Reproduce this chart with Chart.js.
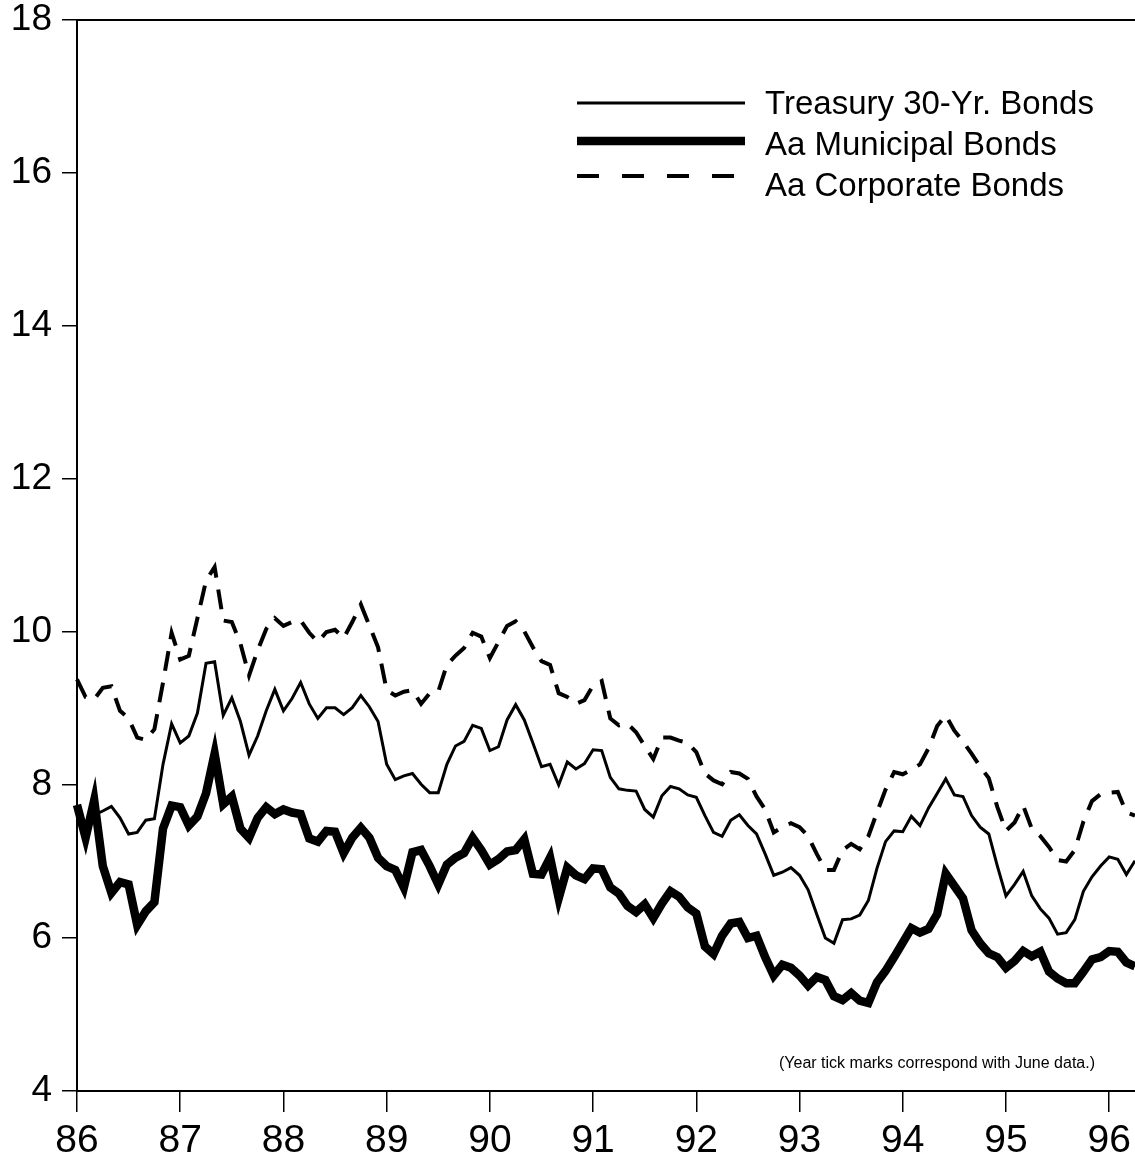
<!DOCTYPE html>
<html>
<head>
<meta charset="utf-8">
<script src="https://cdn.jsdelivr.net/npm/chart.js@4.4.1/dist/chart.umd.min.js"></script>
<style>
  html, body { margin: 0; padding: 0; background: #fff; }
  #wrap { width: 1135px; height: 1164px; }
</style>
</head>
<body>
<div id="wrap"><canvas id="rates" width="1135" height="1164"></canvas></div>
<script>
// Monthly yields, June 1986 through Sept 1996
var startYear = 86;
var monthNames = ["Jun", "Jul", "Aug", "Sep", "Oct", "Nov", "Dec", "Jan", "Feb", "Mar", "Apr", "May"];
var yearLabels = ["86", "87", "88", "89", "90", "91", "92", "93", "94", "95", "96"];

var treasury = [7.55, 7.33, 7.61, 7.66, 7.72, 7.57, 7.36, 7.38, 7.54, 7.56,
  8.27, 8.80, 8.55, 8.64, 8.94, 9.59, 9.61, 8.91, 9.14, 8.83,
  8.39, 8.64, 8.97, 9.25, 8.97, 9.13, 9.34, 9.06, 8.87, 9.01,
  9.01, 8.92, 9.01, 9.17, 9.02, 8.83, 8.27, 8.07, 8.12, 8.15,
  8.01, 7.90, 7.90, 8.27, 8.51, 8.57, 8.78, 8.74, 8.45, 8.50,
  8.85, 9.05, 8.85, 8.55, 8.24, 8.27, 8.00, 8.30, 8.21, 8.28,
  8.46, 8.45, 8.10, 7.95, 7.93, 7.92, 7.68, 7.58, 7.86, 7.98,
  7.95, 7.87, 7.84, 7.60, 7.38, 7.33, 7.54, 7.61, 7.47, 7.36,
  7.10, 6.82, 6.86, 6.92, 6.82, 6.63, 6.31, 6.00, 5.93, 6.24,
  6.25, 6.30, 6.49, 6.91, 7.26, 7.40, 7.39, 7.59, 7.47, 7.70,
  7.89, 8.08, 7.87, 7.85, 7.60, 7.45, 7.36, 6.94, 6.55, 6.70,
  6.87, 6.55, 6.38, 6.26, 6.05, 6.07, 6.24, 6.61, 6.80, 6.94,
  7.06, 7.03, 6.83, 7.01];

var municipal = [7.74, 7.31, 7.80, 6.94, 6.59, 6.73, 6.70, 6.17, 6.35, 6.47,
  7.43, 7.73, 7.71, 7.47, 7.59, 7.89, 8.41, 7.75, 7.85, 7.43,
  7.31, 7.57, 7.71, 7.62, 7.68, 7.64, 7.62, 7.30, 7.26, 7.40,
  7.39, 7.11, 7.31, 7.44, 7.31, 7.05, 6.94, 6.89, 6.66, 7.12,
  7.15, 6.94, 6.70, 6.96, 7.05, 7.11, 7.31, 7.15, 6.96, 7.03,
  7.13, 7.15, 7.29, 6.84, 6.83, 7.05, 6.52, 6.92, 6.82, 6.77,
  6.91, 6.90, 6.66, 6.58, 6.42, 6.34, 6.44, 6.26, 6.45, 6.61,
  6.54, 6.40, 6.32, 5.89, 5.79, 6.03, 6.19, 6.21, 6.00, 6.03,
  5.75, 5.51, 5.65, 5.61, 5.51, 5.38, 5.49, 5.45, 5.24, 5.19,
  5.28, 5.18, 5.15, 5.42, 5.57, 5.75, 5.94, 6.13, 6.07, 6.12,
  6.31, 6.84, 6.68, 6.52, 6.10, 5.93, 5.80, 5.75, 5.61, 5.70,
  5.83, 5.76, 5.82, 5.56, 5.47, 5.41, 5.41, 5.56, 5.72, 5.75,
  5.83, 5.82, 5.68, 5.63];

var corporate = [9.38, 9.15, 9.12, 9.27, 9.29, 8.97, 8.87, 8.62, 8.59, 8.73,
  9.34, 9.99, 9.64, 9.69, 10.18, 10.67, 10.85, 10.15, 10.13, 9.85,
  9.43, 9.76, 10.04, 10.18, 10.08, 10.13, 10.15, 9.99, 9.87, 10.00,
  10.03, 9.92, 10.13, 10.36, 10.08, 9.80, 9.24, 9.17, 9.22, 9.24,
  9.06, 9.20, 9.22, 9.57, 9.69, 9.79, 9.99, 9.94, 9.66, 9.87,
  10.08, 10.14, 10.01, 9.80, 9.62, 9.57, 9.20, 9.15, 9.06, 9.11,
  9.30, 9.36, 8.87, 8.78, 8.80, 8.69, 8.51, 8.34, 8.62, 8.62,
  8.58, 8.55, 8.43, 8.15, 8.06, 8.01, 8.17, 8.15, 8.08, 7.85,
  7.68, 7.38, 7.45, 7.50, 7.45, 7.33, 7.10, 6.89, 6.89, 7.15,
  7.23, 7.16, 7.33, 7.64, 7.94, 8.17, 8.14, 8.20, 8.27, 8.48,
  8.77, 8.91, 8.71, 8.57, 8.41, 8.24, 8.09, 7.71, 7.40, 7.51,
  7.73, 7.43, 7.33, 7.19, 7.02, 7.00, 7.15, 7.52, 7.79, 7.88,
  7.90, 7.91, 7.64, 7.60];

var seriesNames = ["Treasury 30-Yr. Bonds", "Aa Municipal Bonds", "Aa Corporate Bonds"];
var note = "(Year tick marks correspond with June data.)";

// month labels like "Jun 86"
var labels = [];
for (var i = 0; i < treasury.length; i++) {
  var yr = startYear + Math.floor((i + 5) / 12);
  labels.push(monthNames[i % 12] + " " + yr);
}

var fontFamily = '"Liberation Sans", Arial, Helvetica, sans-serif';

// top border, legend and footnote
var extras = {
  id: 'extras',
  afterDraw: function(chart) {
    var c = chart.ctx, area = chart.chartArea;
    c.save();
    c.strokeStyle = '#000';
    c.lineWidth = 2;
    c.beginPath();
    c.moveTo(area.left, area.top);
    c.lineTo(area.right, area.top);
    c.stroke();

    var rows = [103, 141, 176];
    var textY = [114, 155, 196];
    chart.data.datasets.forEach(function(ds, k) {
      c.lineWidth = ds.borderWidth;
      c.setLineDash(ds.legendDash || []);
      c.lineCap = 'butt';
      c.beginPath();
      c.moveTo(577, rows[k]);
      c.lineTo(745, rows[k]);
      c.stroke();
      c.setLineDash([]);
      c.fillStyle = '#000';
      c.font = '33px ' + fontFamily;
      c.textAlign = 'left';
      c.textBaseline = 'alphabetic';
      c.fillText(ds.label, 765, textY[k]);
    });

    c.font = '16px ' + fontFamily;
    c.textAlign = 'right';
    c.textBaseline = 'middle';
    c.fillText(note, 1095, 1064);
    c.restore();
  }
};

var ctx = document.getElementById('rates').getContext('2d');
var chart = new Chart(ctx, {
  type: 'line',
  data: {
    labels: labels,
    datasets: [{
      label: seriesNames[0],
      data: treasury,
      borderColor: '#000',
      borderWidth: 3,
      pointRadius: 0,
      tension: 0,
      fill: false
    }, {
      label: seriesNames[1],
      data: municipal,
      borderColor: '#000',
      borderWidth: 8.5,
      borderJoinStyle: 'miter',
      pointRadius: 0,
      tension: 0,
      fill: false
    }, {
      label: seriesNames[2],
      data: corporate,
      borderColor: '#000',
      borderWidth: 4,
      borderDash: [20, 12],
      legendDash: [22, 23],
      pointRadius: 0,
      tension: 0,
      fill: false
    }]
  },
  options: {
    responsive: false,
    animation: false,
    devicePixelRatio: 1,
    layout: { padding: { top: 20, right: 0, left: 0, bottom: 0 } },
    plugins: {
      legend: { display: false },
      tooltip: { enabled: false }
    },
    scales: {
      x: {
        type: 'category',
        offset: false,
        grid: { drawOnChartArea: false, drawTicks: true, tickLength: 21, color: '#000', lineWidth: 1.5 },
        border: { display: true, color: '#000', width: 2 },
        ticks: {
          autoSkip: false,
          maxRotation: 0,
          minRotation: 0,
          padding: 10,
          color: '#000',
          font: { size: 39, family: fontFamily, lineHeight: 1 },
          callback: function(value, index) {
            return index % 12 === 0 ? yearLabels[index / 12] : null;
          }
        },
        afterFit: function(scale) {
          scale.height = 73;
          scale.paddingLeft = 0;
          scale.paddingRight = 0;
        }
      },
      y: {
        min: 4,
        max: 18,
        grid: { drawOnChartArea: false, drawTicks: true, tickLength: 15, color: '#000', lineWidth: 1.5 },
        border: { display: true, color: '#000', width: 2 },
        ticks: {
          stepSize: 2,
          padding: 10,
          color: '#000',
          font: { size: 37, family: fontFamily, lineHeight: 1 }
        },
        afterFit: function(scale) {
          scale.width = 77;
          scale.paddingTop = 0;
          scale.paddingBottom = 0;
        }
      }
    }
  },
  plugins: [extras]
});
</script>
</body>
</html>
